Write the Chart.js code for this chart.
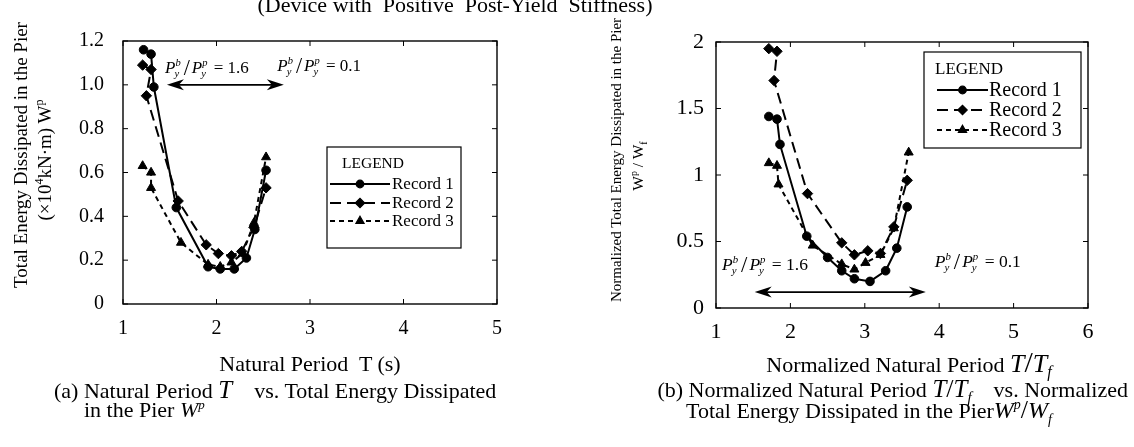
<!DOCTYPE html>
<html>
<head>
<meta charset="utf-8">
<script src="https://cdn.jsdelivr.net/npm/chart.js@4.4.1/dist/chart.umd.min.js"></script>
<style>
  html, body { margin: 0; padding: 0; background: #fff; }
  body { width: 1134px; height: 447px; position: relative; overflow: hidden;
         font-family: "Liberation Serif", "Times New Roman", serif; color: #000; }
  canvas { position: absolute; top: 0; }
  #chartA { left: 0; }
  #chartB { left: 560px; }
  .txt { position: absolute; white-space: nowrap; line-height: 1; }
  .rot { transform: translate(-50%, -50%) rotate(-90deg); }
  .ctr { transform: translate(-50%, -50%); }
  .lft { transform: translateY(-50%); }
  sup, sub { line-height: 0; }
</style>
</head>
<body>
<canvas id="chartA" width="560" height="447"></canvas>
<canvas id="chartB" width="574" height="447"></canvas>

<div class="txt" style="left:455px; top:-6px; font-size:22px; transform:translateX(-50%);">(Device with&nbsp; Positive&nbsp; Post-Yield&nbsp; Stiffness)</div>

<!-- panel (a) axis titles and caption -->
<div class="txt rot" style="left:20px; top:155px; font-size:19px;">Total Energy Dissipated in the Pier</div>
<div class="txt rot" style="left:44px; top:160px; font-size:19px;">(&times;10<sup style="font-size:12px;">4</sup>kN&middot;m) W<sup style="font-size:12px;">p</sup></div>
<div class="txt ctr" style="left:310px; top:364px; font-size:22px;">Natural Period&nbsp; T (s)</div>
<div class="txt lft" style="left:54px; top:389px; font-size:22px;">(a) Natural Period <i style="font-size:25px;">T</i>&nbsp;&nbsp;&nbsp; vs. Total Energy Dissipated</div>
<div class="txt lft" style="left:84px; top:410px; font-size:22px;">in the Pier <i>W<sup style="font-size:13px;">p</sup></i></div>

<!-- panel (b) axis titles and caption -->
<div class="txt rot" style="left:616px; top:160px; font-size:15px;">Normalized Total Energy Dissipated in the Pier</div>
<div class="txt rot" style="left:638px; top:166px; font-size:15.5px;">W<sup style="font-size:10px;">p</sup> / W<sub style="font-size:10px;">f</sub></div>
<div class="txt ctr" style="left:909px; top:362px; font-size:22px;">Normalized Natural Period <i style="font-size:26px;">T</i><span style="font-size:30px;">/</span><i style="font-size:26px;">T</i><sub><i style="font-size:16px;">f</i></sub></div>
<div class="txt lft" style="right:6px; top:389px; font-size:22px;">(b) Normalized Natural Period <i style="font-size:25px;">T</i><span style="font-size:26px;">/</span><i style="font-size:25px;">T</i><sub><i style="font-size:15px;">f</i></sub>&nbsp;&nbsp;&nbsp; vs. Normalized</div>
<div class="txt lft" style="left:686px; top:410px; font-size:22px;">Total Energy Dissipated in the Pier<i style="font-size:24px;">W<sup style="font-size:14px;">p</sup></i><span style="font-size:26px;">/</span><i style="font-size:24px;">W<sub style="font-size:14px;">f</sub></i></div>

<script>
// ---- Panel (a): natural period T (s) vs. energy dissipated in the pier (x10^4 kN·m) ----
const periodA1 = [1.22, 1.30, 1.33, 1.57, 1.91, 2.04, 2.19, 2.32, 2.41, 2.53];
const energyA1 = [1.16, 1.14, 0.99, 0.44, 0.17, 0.16, 0.16, 0.21, 0.34, 0.61];
const periodA2 = [1.21, 1.30, 1.25, 1.59, 1.89, 2.02, 2.16, 2.27, 2.40, 2.53];
const energyA2 = [1.09, 1.07, 0.95, 0.47, 0.27, 0.23, 0.22, 0.24, 0.35, 0.53];
const periodA3 = [1.21, 1.30, 1.30, 1.62, 1.91, 2.04, 2.16, 2.28, 2.40, 2.53];
const energyA3 = [0.63, 0.60, 0.53, 0.28, 0.18, 0.17, 0.19, 0.23, 0.37, 0.67];
const xTicksA = [1, 2, 3, 4, 5];
const yTicksA = [0, 0.2, 0.4, 0.6, 0.8, 1.0, 1.2];
const yTickLabelsA = ['0', '0.2', '0.4', '0.6', '0.8', '1.0', '1.2'];

// ---- Panel (b): normalized period T/Tf vs. normalized energy Wp/Wf ----
const periodB1 = [1.71, 1.82, 1.86, 2.22, 2.50, 2.69, 2.86, 3.07, 3.28, 3.43, 3.57];
const energyB1 = [1.44, 1.42, 1.23, 0.54, 0.38, 0.28, 0.22, 0.20, 0.28, 0.45, 0.76];
const periodB2 = [1.71, 1.82, 1.78, 2.23, 2.69, 2.86, 3.04, 3.21, 3.39, 3.57];
const energyB2 = [1.95, 1.93, 1.71, 0.86, 0.49, 0.40, 0.43, 0.41, 0.61, 0.96];
const periodB3 = [1.71, 1.82, 1.84, 2.30, 2.69, 2.86, 3.01, 3.21, 3.39, 3.59];
const energyB3 = [1.09, 1.07, 0.93, 0.47, 0.33, 0.29, 0.34, 0.40, 0.60, 1.17];
const xTicksB = [1, 2, 3, 4, 5, 6];
const yTicksB = [0, 0.5, 1, 1.5, 2];
const yTickLabelsB = ['0', '0.5', '1', '1.5', '2'];

const recordNames = ['Record 1', 'Record 2', 'Record 3'];
const ratioLabels = ['1.6', '0.1'];

const SERIF = '"Liberation Serif", "Times New Roman", serif';
const INK = '#000';

// line / marker look of each record
const recordStyle = [
  { dash: [], point: 'circle', radius: 4.3 },
  { dash: [11, 6], point: 'rectRot', radius: 5.2 },
  { dash: [5, 4], point: 'triangle', radius: 5.2 }
];

function pairs(xs, ys) { return xs.map((x, i) => ({ x: x, y: ys[i] })); }

function makeDatasets(series) {
  return series.map((s, i) => ({
    label: recordNames[i],
    data: pairs(s[0], s[1]),
    showLine: true,
    borderColor: INK,
    backgroundColor: INK,
    borderWidth: 2,
    borderDash: recordStyle[i].dash,
    pointStyle: recordStyle[i].point,
    pointRadius: recordStyle[i].radius,
    pointHoverRadius: recordStyle[i].radius,
    pointBorderWidth: 1,
    tension: 0
  }));
}

// closed frame with inward ticks on all four sides
const frameTicks = {
  id: 'frameTicks',
  afterDatasetsDraw(chart, args, opts) {
    const { ctx, chartArea: a, scales } = chart;
    ctx.save();
    ctx.strokeStyle = INK;
    ctx.lineWidth = 1.4;
    ctx.strokeRect(a.left, a.top, a.right - a.left, a.bottom - a.top);
    const L = opts.len || 5;
    ctx.lineWidth = 1;
    ctx.beginPath();
    scales.x.ticks.forEach(t => {
      const p = scales.x.getPixelForValue(t.value);
      ctx.moveTo(p, a.bottom); ctx.lineTo(p, a.bottom - L);
      ctx.moveTo(p, a.top); ctx.lineTo(p, a.top + L);
    });
    scales.y.ticks.forEach(t => {
      const p = scales.y.getPixelForValue(t.value);
      ctx.moveTo(a.left, p); ctx.lineTo(a.left + L, p);
      ctx.moveTo(a.right, p); ctx.lineTo(a.right - L, p);
    });
    ctx.stroke();
    ctx.restore();
  }
};

// P_y^b / P_y^p = value, drawn from its left edge at vertical centre y
function drawRatio(ctx, x, y, value, fs) {
  ctx.save();
  ctx.fillStyle = INK;
  ctx.textBaseline = 'alphabetic';
  const base = y + fs * 0.33;
  const small = fs * 0.62;
  let cx = x;
  const pTerm = sup => {
    ctx.font = `italic ${fs}px ${SERIF}`;
    ctx.fillText('P', cx, base);
    cx += ctx.measureText('P').width;
    ctx.font = `italic ${small}px ${SERIF}`;
    ctx.fillText(sup, cx, base - fs * 0.42);
    ctx.fillText('y', cx - 1, base + fs * 0.24);
    cx += Math.max(ctx.measureText(sup).width, ctx.measureText('y').width) + 1;
  };
  pTerm('b');
  ctx.font = `${fs * 1.3}px ${SERIF}`;
  cx += 2;
  ctx.fillText('/', cx, base + fs * 0.12);
  cx += ctx.measureText('/').width + 2;
  pTerm('p');
  ctx.font = `${fs}px ${SERIF}`;
  ctx.fillText(' = ' + value, cx + 1, base);
  ctx.restore();
}

function drawDoubleArrow(ctx, x1, x2, y) {
  ctx.save();
  ctx.strokeStyle = INK;
  ctx.fillStyle = INK;
  ctx.lineWidth = 1.8;
  ctx.beginPath(); ctx.moveTo(x1 + 4, y); ctx.lineTo(x2 - 4, y); ctx.stroke();
  const head = (tip, dir) => {
    ctx.beginPath();
    ctx.moveTo(tip, y);
    ctx.lineTo(tip - dir * 17, y - 5.5);
    ctx.lineTo(tip - dir * 12, y);
    ctx.lineTo(tip - dir * 17, y + 5.5);
    ctx.closePath();
    ctx.fill();
  };
  head(x1, -1);
  head(x2, 1);
  ctx.restore();
}

// span arrow between the two extreme stiffness ratios, with their labels
const ratioNotes = {
  id: 'ratioNotes',
  afterDatasetsDraw(chart, args, o) {
    const { ctx, scales: { x, y } } = chart;
    drawDoubleArrow(ctx, x.getPixelForValue(o.arrow[0]), x.getPixelForValue(o.arrow[1]), y.getPixelForValue(o.arrow[2]));
    o.labels.forEach(l => drawRatio(ctx, x.getPixelForValue(l[0]), y.getPixelForValue(l[1]), l[2], o.size));
  }
};

// boxed legend headed "LEGEND"
const boxLegend = {
  id: 'boxLegend',
  afterDraw(chart, args, o) {
    const ctx = chart.ctx;
    const b = o.box;
    ctx.save();
    ctx.fillStyle = '#fff';
    ctx.fillRect(b[0], b[1], b[2] - b[0], b[3] - b[1]);
    ctx.strokeStyle = INK;
    ctx.lineWidth = 1.2;
    ctx.strokeRect(b[0], b[1], b[2] - b[0], b[3] - b[1]);
    ctx.fillStyle = INK;
    ctx.textBaseline = 'middle';
    ctx.font = `${o.headSize}px ${SERIF}`;
    ctx.fillText('LEGEND', o.headX, o.headY);
    chart.data.datasets.forEach((ds, i) => {
      const ry = o.rowY[i];
      ctx.save();
      ctx.strokeStyle = INK;
      ctx.lineWidth = 2;
      ctx.setLineDash(ds.borderDash);
      ctx.beginPath(); ctx.moveTo(o.line[0], ry); ctx.lineTo(o.line[1], ry); ctx.stroke();
      ctx.restore();
      ctx.fillStyle = INK;
      ctx.strokeStyle = INK;
      Chart.helpers.drawPoint(ctx, {
        pointStyle: ds.pointStyle, radius: ds.pointRadius - 0.5, rotation: 0, borderWidth: 1
      }, (o.line[0] + o.line[1]) / 2, ry);
      ctx.font = `${o.rowSize}px ${SERIF}`;
      ctx.fillText(ds.label, o.textX, ry + 1);
    });
    ctx.restore();
  }
};

function axisOptions(xTicks, yTicks, yLabels, xRange, yRange, tickSize, geom) {
  return {
    x: {
      type: 'linear', min: xRange[0], max: xRange[1],
      grid: { display: false }, border: { display: false },
      afterBuildTicks: s => { s.ticks = xTicks.map(v => ({ value: v })); },
      afterFit: s => { s.height = geom.xHeight; },
      ticks: { color: INK, font: { family: SERIF, size: tickSize }, padding: geom.xPad,
               callback: v => String(v), maxRotation: 0 }
    },
    y: {
      type: 'linear', min: yRange[0], max: yRange[1],
      grid: { display: false }, border: { display: false },
      afterBuildTicks: s => { s.ticks = yTicks.map(v => ({ value: v })); },
      afterFit: s => { s.width = geom.yWidth; },
      ticks: { color: INK, font: { family: SERIF, size: tickSize }, padding: geom.yPad,
               callback: (v, i) => yLabels[i] }
    }
  };
}

function buildChart(id, datasets, scales, padding, notes, legend) {
  return new Chart(document.getElementById(id), {
    type: 'scatter',
    data: { datasets: datasets },
    options: {
      responsive: false,
      animation: false,
      devicePixelRatio: 1,
      layout: { padding: padding },
      scales: scales,
      plugins: {
        legend: { display: false },
        tooltip: { enabled: false },
        frameTicks: { len: 5 },
        ratioNotes: notes,
        boxLegend: legend
      }
    },
    plugins: [frameTicks, ratioNotes, boxLegend]
  });
}

Chart.defaults.font.family = SERIF;

buildChart('chartA',
  makeDatasets([[periodA1, energyA1], [periodA2, energyA2], [periodA3, energyA3]]),
  axisOptions(xTicksA, yTicksA, yTickLabelsA, [1, 5], [0, 1.2], 20,
              { xHeight: 143, yWidth: 123, xPad: 5, yPad: 11 }),
  { top: 41, right: 63, bottom: 0, left: 0 },
  { arrow: [1.47, 2.72, 1.0], size: 17,
    labels: [[1.45, 1.08, ratioLabels[0]], [2.65, 1.09, ratioLabels[1]]] },
  { box: [327, 147, 461, 248], headX: 342, headY: 164, headSize: 15.5,
    rowY: [184, 203, 221], line: [330, 390], textX: 392, rowSize: 17 }
);

buildChart('chartB',
  makeDatasets([[periodB1, energyB1], [periodB2, energyB2], [periodB3, energyB3]]),
  axisOptions(xTicksB, yTicksB, yTickLabelsB, [1, 6], [0, 2], 22,
              { xHeight: 139, yWidth: 156, xPad: 3, yPad: 4 }),
  { top: 42, right: 46, bottom: 0, left: 0 },
  { arrow: [1.52, 3.82, 0.12], size: 17.5,
    labels: [[1.08, 0.33, ratioLabels[0]], [3.94, 0.35, ratioLabels[1]]] },
  { box: [364, 52, 521, 148], headX: 375, headY: 70, headSize: 17,
    rowY: [90, 110, 130], line: [377, 428], textX: 429, rowSize: 20 }
);
</script>
</body>
</html>
